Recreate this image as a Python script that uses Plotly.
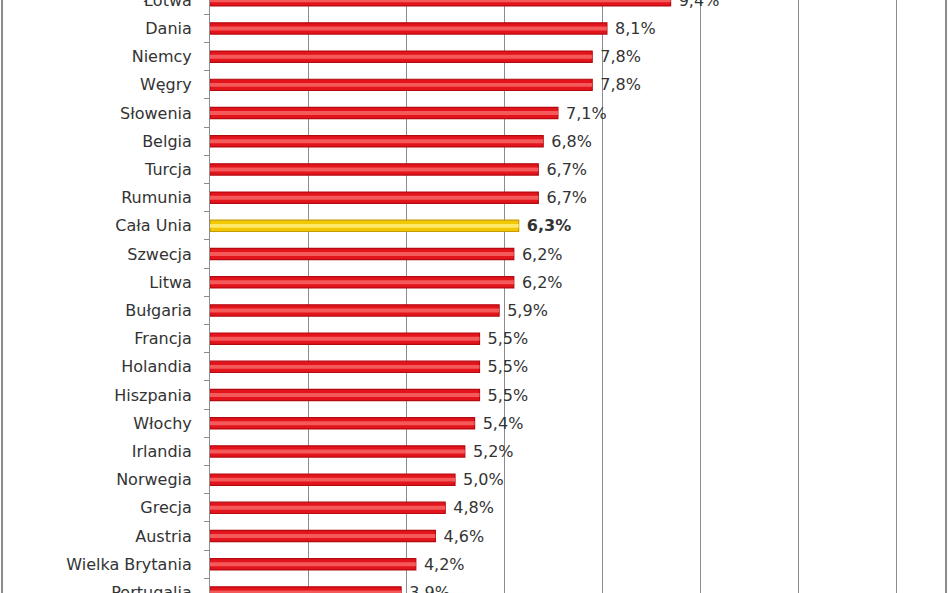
import plotly.graph_objects as go

countries = [
    "Łotwa", "Dania", "Niemcy", "Węgry", "Słowenia", "Belgia", "Turcja",
    "Rumunia", "Cała Unia", "Szwecja", "Litwa", "Bułgaria", "Francja",
    "Holandia", "Hiszpania", "Włochy", "Irlandia", "Norwegia", "Grecja",
    "Austria", "Wielka Brytania", "Portugalia",
]
values = [
    9.4, 8.1, 7.8, 7.8, 7.1, 6.8, 6.7,
    6.7, 6.3, 6.2, 6.2, 5.9, 5.5,
    5.5, 5.5, 5.4, 5.2, 5.0, 4.8,
    4.6, 4.2, 3.9,
]
highlight = "Cała Unia"

colors = {
    'red_edge': '#B30A10',
    'red': '#E3141B',
    'red_light': '#F55A5A',
    'gold_edge': '#C99A00',
    'gold': '#F2C800',
    'gold_light': '#FFE96A',
    'text': '#333333',
    'grid': '#8C8C8C',
}

is_hl = [c == highlight for c in countries]
labels = [
    (" <b>%s%%</b>" if h else " %s%%") % ("%.1f" % v).replace(".", ",")
    for v, h in zip(values, is_hl)
]

fig = go.Figure()
# main bar with darker edge
fig.add_trace(go.Bar(
    y=countries, x=values, orientation='h', width=0.4,
    marker=dict(
        color=[colors['gold'] if h else colors['red'] for h in is_hl],
        line=dict(color=[colors['gold_edge'] if h else colors['red_edge'] for h in is_hl], width=1.2),
    ),
    text=labels, textposition='outside', cliponaxis=False, constraintext='none',
    textfont=dict(family="DejaVu Sans", size=16, color=colors['text']),
    hoverinfo='skip', showlegend=False,
))
# glossy centre stripe
fig.add_trace(go.Bar(
    y=countries, x=values, orientation='h', width=0.14,
    marker=dict(
        color=[colors['gold_light'] if h else colors['red_light'] for h in is_hl],
        line=dict(width=0),
    ),
    hoverinfo='skip', showlegend=False,
))

L, R = 210, 3
pw = 948 - L - R

fig.update_layout(
    width=948, height=593,
    margin=dict(l=L, r=R, t=0, b=0, autoexpand=False),
    barmode='overlay',
    plot_bgcolor='white', paper_bgcolor='white',
    font=dict(family="DejaVu Sans", size=16, color=colors['text']),
    xaxis=dict(
        range=[0, 15], dtick=2, showgrid=True, gridcolor=colors['grid'],
        gridwidth=1, zeroline=False, showticklabels=False, showline=False,
        automargin=False,
    ),
    yaxis=dict(
        type='category', range=[21.02, -0.01], showgrid=False, automargin=False,
        showline=True, linecolor=colors['grid'], linewidth=1,
        ticks='outside', tickson='boundaries', ticklen=5, tickcolor=colors['grid'],
        ticklabelstandoff=14,
        tickfont=dict(family="DejaVu Sans", size=16, color=colors['text']),
    ),
    shapes=[
        dict(type='line', xref='paper', yref='paper',
             x0=(2 - L) / pw, x1=(2 - L) / pw, y0=0, y1=1,
             line=dict(color='#8C8C8C', width=2)),
        dict(type='line', xref='paper', yref='paper',
             x0=(946 - L) / pw, x1=(946 - L) / pw, y0=0, y1=1,
             line=dict(color='#8C8C8C', width=2)),
    ],
)

# drop the default page margin so the figure sits at the window's corner
fig.write_html("out.html", config={'displayModeBar': False},
               post_script="document.body.style.margin='0';")
